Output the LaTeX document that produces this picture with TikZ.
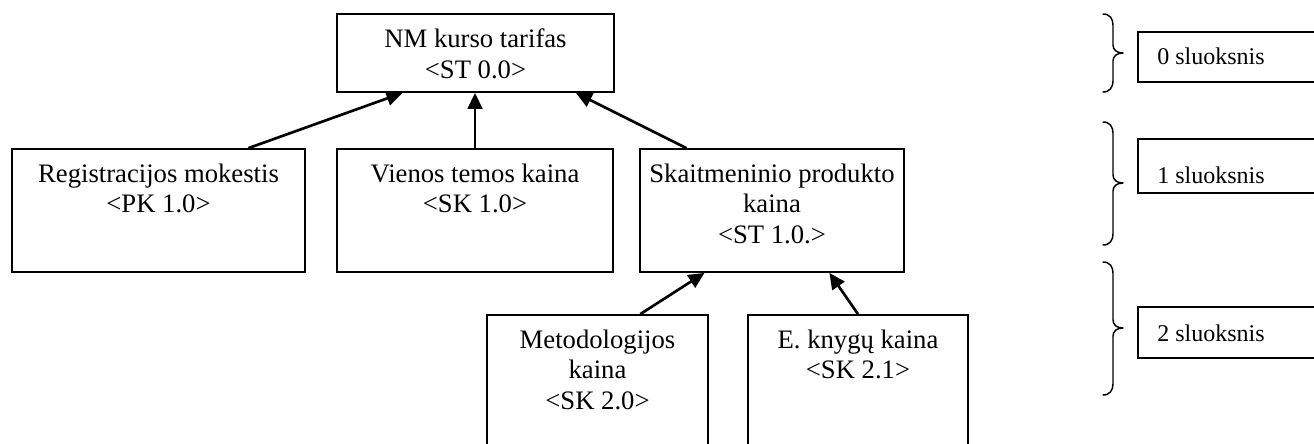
\documentclass[tikz,border=0pt]{standalone}
\usepackage{fontspec}
\setmainfont{Liberation Serif}
\usetikzlibrary{arrows.meta,calc,fit}

% one unit = one pixel of the layout grid, y grows downwards
\tikzset{
  x=0.75pt, y=-0.75pt,
  box/.style={draw, line width=1.3pt, inner sep=0pt, fill=none},
  boxtext/.style={inner sep=0pt, align=center, anchor=north,
    font=\fontsize{20pt}{22.8pt}\selectfont},
  layertext/.style={inner sep=0pt, anchor=base west,
    font=\fontsize{18pt}{21pt}\selectfont},
  link/.style={line width=2pt, -{Triangle[length=12pt,width=11pt]}},
  bracestroke/.style={line width=1.1pt, line cap=round, line join=round},
}

% curly brace opening to the right: #1 top, #2 middle (tip), #3 bottom
\newcommand\layerbrace[3]{%
  \draw[bracestroke] (1103,#1) .. controls +(7,0) and +(0,-6) .. (1113,#1+11)
    -- (1113,#2-8) .. controls +(0,5) and +(-6,0) .. (1123,#2)
    .. controls +(-6,0) and +(0,-5) .. (1113,#2+8)
    -- (1113,#3-11) .. controls +(0,6) and +(7,0) .. (1103,#3);}

\begin{document}
\begin{tikzpicture}
\useasboundingbox (0,0) rectangle (1314,443);
\clip (0,0) rectangle (1314,443);

% level 0
\node[box, fit={(337,14) (614,92)}] (top) {};
\node[boxtext] (top-t) at ($(top.north)+(0,15.5)$) {NM kurso tarifas\\<ST 0.0>};

% level 1
\node[box, fit={(12,149) (305,272)}] (reg) {};
\node[boxtext] (reg-t) at ($(reg.north)+(0,15.5)$) {Registracijos mokestis\\<PK 1.0>};

\node[box, fit={(337,149) (613,272)}] (tema) {};
\node[boxtext] (tema-t) at ($(tema.north)+(0,15.5)$) {Vienos temos kaina\\<SK 1.0>};

\node[box, fit={(640,149) (904,272)}] (skait) {};
\node[boxtext] (skait-t) at ($(skait.north)+(0,15.5)$) {Skaitmeninio produkto\\kaina\\<ST 1.0.>};

% level 2 (boxes run past the lower edge)
\node[box, fit={(487,315) (708,470)}] (metod) {};
\node[boxtext] (metod-t) at ($(metod.north)+(0,15.5)$) {Metodologijos\\kaina\\<SK 2.0>};

\node[box, fit={(748,315) (968,470)}] (knyg) {};
\node[boxtext] (knyg-t) at ($(knyg.north)+(0,15.5)$) {E. knygų kaina\\<SK 2.1>};

% dependencies
\draw[link] ($(reg.north west)!0.805!(reg.north east)$) -- ($(top.south west)!0.238!(top.south east)$);
\draw[link] (tema.north) -- (tema.north |- top.south);
\draw[link] ($(skait.north west)!0.178!(skait.north east)$) -- ($(top.south west)!0.86!(top.south east)$);
\draw[link] ($(metod.north west)!0.692!(metod.north east)$) -- ($(skait.south west)!0.246!(skait.south east)$);
\draw[link] (knyg.north) -- ($(skait.south west)!0.716!(skait.south east)$);

% layer braces and layer names (boxes run past the right edge)
\layerbrace{14}{53}{92}
\layerbrace{122}{183}{245}
\layerbrace{262}{328}{395}

\node[box, fit={(1138,32) (1340,82)}] (l0) {};
\node[layertext] (l0-t) at (1157,64) {0 sluoksnis};
\node[box, fit={(1138,139) (1340,193)}] (l1) {};
\node[layertext] (l1-t) at (1157,183) {1 sluoksnis};
\node[box, fit={(1138,307) (1340,358)}] (l2) {};
\node[layertext] (l2-t) at (1157,341) {2 sluoksnis};
\end{tikzpicture}
\end{document}
